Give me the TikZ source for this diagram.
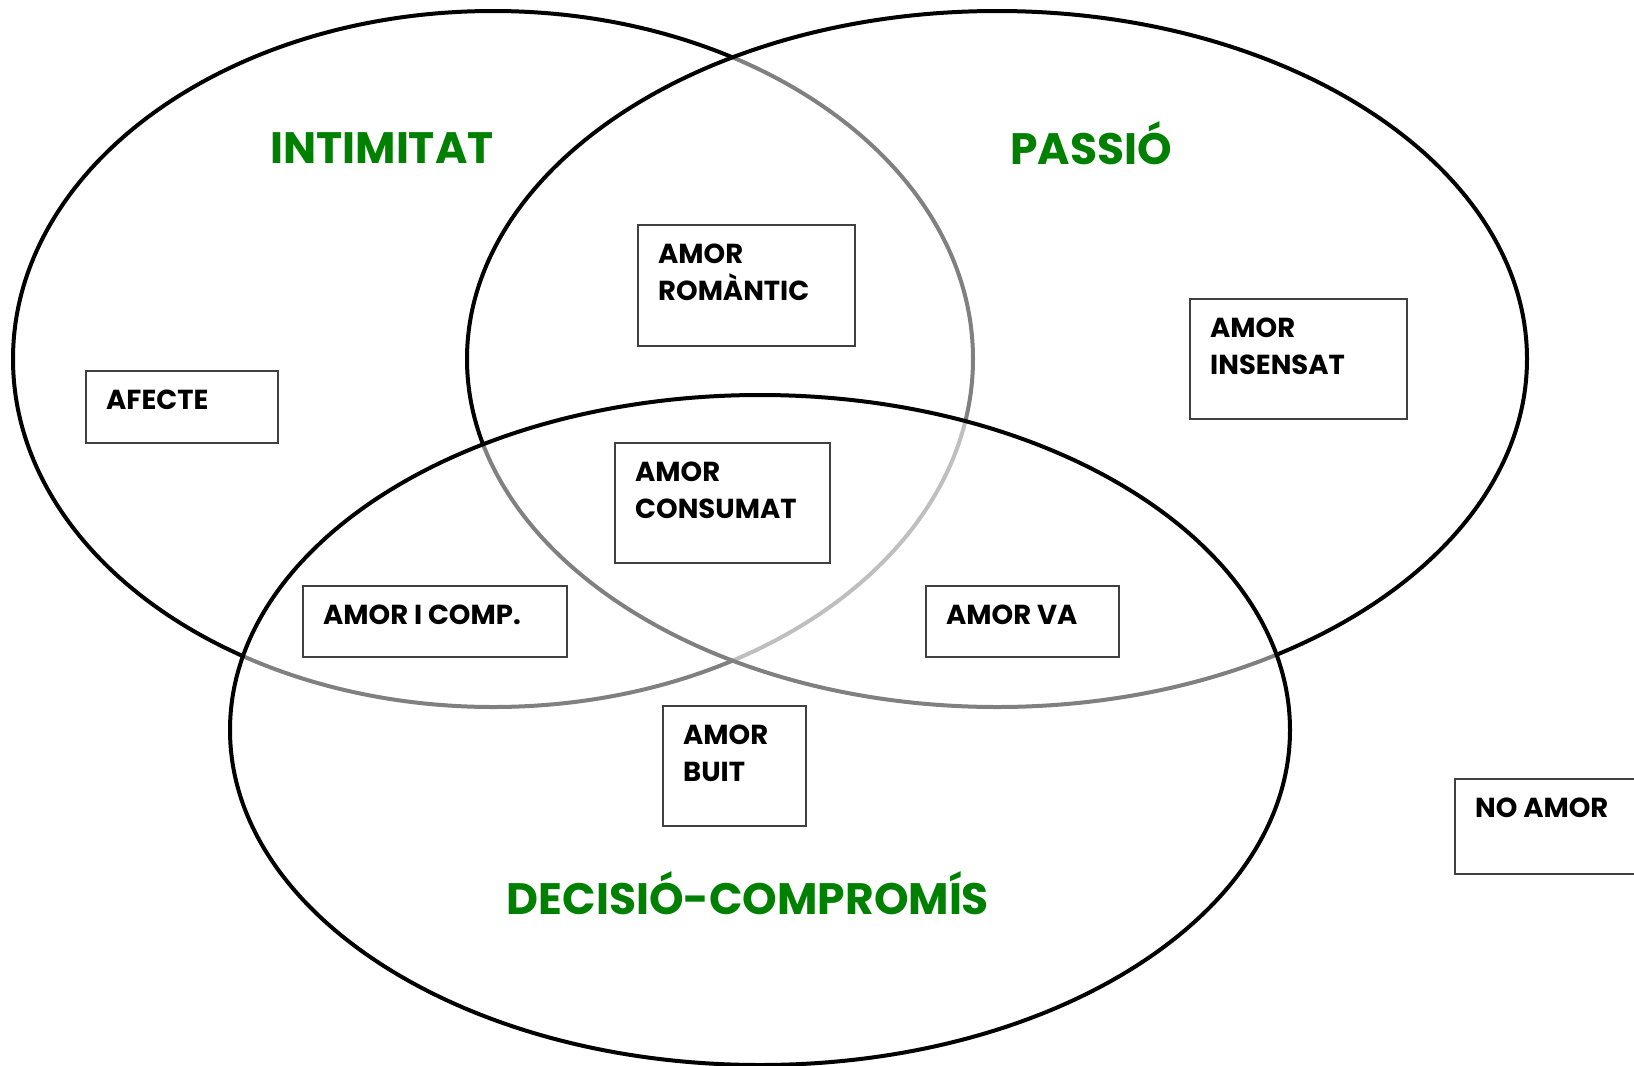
\documentclass[tikz,border=0pt]{standalone}
\usepackage{fontspec}
\setmainfont{Poppins}
\definecolor{setgreen}{RGB}{0,128,0}
\tikzset{
  setline/.style={line width=4pt},
  boxframe/.style={draw=black!75, line width=1.5pt, fill=white, anchor=north west, inner sep=0pt},
  boxlabel/.style={anchor=north west, inner sep=0pt, align=left, font=\fontsize{27.5}{37}\selectfont\bfseries},
  setname/.style={text=setgreen, inner sep=0pt, anchor=base, font=\fontsize{44}{50}\selectfont\bfseries}
}

\begin{document}
\begin{tikzpicture}[x=1pt, y=-1pt]
  \useasboundingbox (0,0) rectangle (1634,1066);

  % the three sets, the later ones half see-through
  \draw[setline] (493,359) ellipse [x radius=480, y radius=348];
  \draw[setline, fill=white, fill opacity=0.5] (997,359) ellipse [x radius=530, y radius=348];
  \draw[setline, fill=white, fill opacity=0.5] (760,730) ellipse [x radius=530, y radius=335];

  \foreach \nm/\x/\y/\w/\h/\txt in {
      afecte/85/370/192/72/{AFECTE},
      romantic/637/224/217/121/{AMOR\\ROMÀNTIC},
      insensat/1189/298/217/120/{AMOR\\INSENSAT},
      consumat/614/442/215/120/{AMOR\\CONSUMAT},
      icomp/302/585/264/71/{AMOR I COMP.},
      va/925/585/193/71/{AMOR VA},
      buit/662/705/143/120/{AMOR\\BUIT},
      noamor/1454/778/200/95/{NO AMOR}} {
    \node[boxframe, minimum width=\w, minimum height=\h] (\nm) at (\x,\y) {};
    \node[boxlabel] (\nm-text) at ([xshift=21pt, yshift=-20pt] \nm.north west) {\txt};
  }

  \node[setname] (intimitat) at (382,163) {INTIMITAT};
  \node[setname] (passio) at (1091,164) {PASSIÓ};
  \node[setname] (decisio) at (748,914) {DECISIÓ-COMPROMÍS};
\end{tikzpicture}
\end{document}
